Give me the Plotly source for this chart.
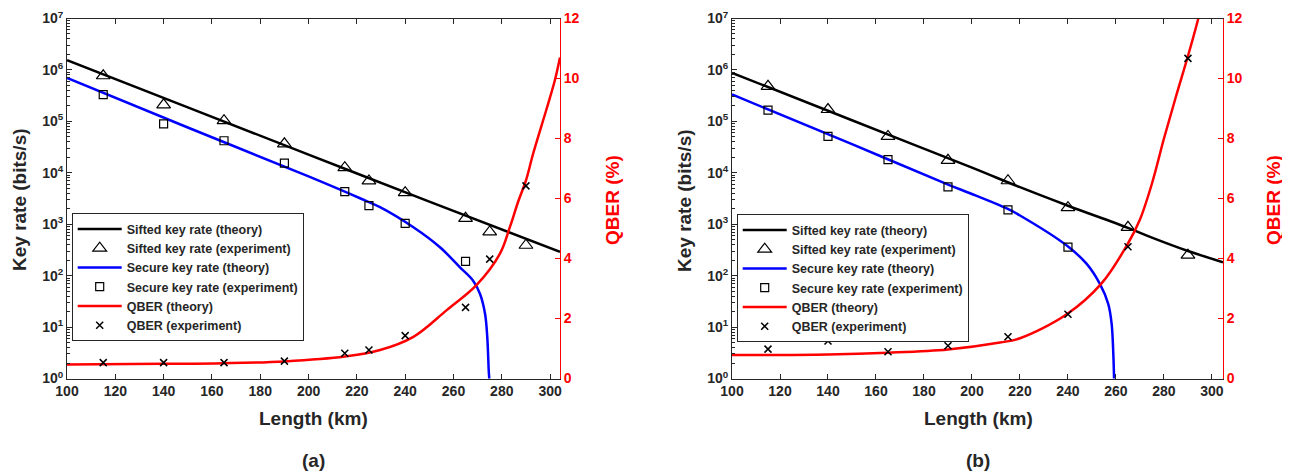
import plotly.graph_objects as go

# ---------------- Panel (a) ----------------
len_sift_th_a = [100, 150, 200, 250, 304.1]
sift_th_a = [1.55e6, 1.87e5, 2.26e4, 2.75e3, 2.9e2]

len_sec_th_a = [100, 150, 200, 221.3, 229.6, 243.4, 254.4, 262.7, 268.2, 271.0, 273.1, 274.0, 274.6, 274.8, 274.9]
sec_th_a = [7.0e5, 7.6e4, 8.5e3, 3.2e3, 2.14e3, 8.7e2, 3.56e2, 1.45e2, 79, 44, 17.8, 6.3, 1.41, 1.0, 0.5]

len_qber_th_a = [100, 140, 165, 190, 215, 229.6, 243.4, 257.2, 269.6, 279.3, 283.4, 286.8, 290, 293, 298.6, 302, 304.1]
qber_th_a = [0.47, 0.49, 0.51, 0.57, 0.73, 0.95, 1.39, 2.28, 3.12, 4.17, 5.06, 5.9, 6.6, 7.5, 9.0, 9.95, 10.7]

len_exp_a = [115, 140, 165, 190, 215, 225, 240, 265, 275, 290]
sift_exp_a = [7.7e5, 2.1e5, 1.03e5, 3.66e4, 1.26e4, 6.95e3, 4.1e3, 1.3e3, 7.1e2, 3.9e2]
len_sec_exp_a = [115, 140, 165, 190, 215, 225, 240, 265]
sec_exp_a = [3.3e5, 8.9e4, 4.2e4, 1.54e4, 4.3e3, 2.3e3, 1.04e3, 1.9e2]
qber_exp_a = [0.53, 0.53, 0.53, 0.58, 0.84, 0.95, 1.43, 2.37, 3.98, 6.42]

# ---------------- Panel (b) ----------------
len_sift_th_b = [100, 150, 200, 220, 240, 265, 275, 290, 304.6]
sift_th_b = [8.77e5, 1.05e5, 1.26e4, 5.25e3, 2.29e3, 8.51e2, 5.5e2, 3.02e2, 1.82e2]

len_sec_th_b = [100, 150, 190.8, 199.2, 214.7, 220, 239.5, 247.8, 253.3, 256.8, 258.2, 258.9, 259.2, 259.3]
sec_th_b = [3.33e5, 3.6e4, 5.7e3, 4.0e3, 2.0e3, 1.48e3, 3.85e2, 1.69e2, 69, 28, 11.5, 2.95, 1.0, 0.5]

len_qber_th_b = [100, 140, 165, 190, 211.7, 220, 239.5, 254, 265, 270, 275, 280, 285, 290, 294.3, 296]
qber_th_b = [0.78, 0.80, 0.86, 0.97, 1.2, 1.34, 2.14, 3.17, 4.5, 5.3, 6.5, 8.0, 9.4, 10.75, 12.0, 12.6]

len_exp_b = [115, 140, 165, 190, 215, 240, 265, 290]
sift_exp_b = [4.8e5, 1.7e5, 5.1e4, 1.75e4, 7.0e3, 2.1e3, 8.7e2, 2.5e2]
len_sec_exp_b = [115, 140, 165, 190, 215, 240]
sec_exp_b = [1.65e5, 5.1e4, 1.8e4, 5.3e3, 1.9e3, 3.6e2]
qber_exp_b = [0.98, 1.25, 0.89, 1.09, 1.39, 2.14, 4.39, 10.67]

# ---------------- Labels ----------------
legend_names = ["Sifted key rate (theory)", "Sifted key rate (experiment)",
                "Secure key rate (theory)", "Secure key rate (experiment)",
                "QBER (theory)", "QBER (experiment)"]
x_ticks = [100, 120, 140, 160, 180, 200, 220, 240, 260, 280, 300]
y_tick_vals = [1, 10, 100, 1e3, 1e4, 1e5, 1e6, 1e7]
y_tick_text = ["10<sup>%d</sup>" % i for i in range(8)]
q_ticks = [0, 2, 4, 6, 8, 10, 12]

FONT = "Liberation Sans, Arial, sans-serif"
DARK = "#262626"
# the page body has an 8px margin, so the figure is drawn 8px in from the corner
OFF = 8
W, H = 1290 - OFF, 471 - OFF


def px(xp):
    return (xp - OFF) / W


def py(yp):
    return (H - (yp - OFF)) / H


fig = go.Figure()


def add_panel(xa, ya, qa, leg, ls, ys, lsec, ysec, lq, yq, le, ye, lse, yse, qe):
    fig.add_trace(go.Scatter(x=ls, y=ys, mode="lines", name=legend_names[0],
                             line=dict(color="black", width=2.5, shape="spline"),
                             xaxis=xa, yaxis=ya, legend=leg))
    fig.add_trace(go.Scatter(x=le, y=ye, mode="markers", name=legend_names[1],
                             marker=dict(symbol="triangle-up-open", size=12, color="black",
                                         line=dict(width=1.2, color="black")),
                             xaxis=xa, yaxis=ya, legend=leg))
    fig.add_trace(go.Scatter(x=lsec, y=ysec, mode="lines", name=legend_names[2],
                             line=dict(color="#0000ff", width=2.5, shape="spline"),
                             xaxis=xa, yaxis=ya, legend=leg))
    fig.add_trace(go.Scatter(x=lse, y=yse, mode="markers", name=legend_names[3],
                             marker=dict(symbol="square-open", size=8, color="black",
                                         line=dict(width=1.2, color="black")),
                             xaxis=xa, yaxis=ya, legend=leg))
    fig.add_trace(go.Scatter(x=lq, y=yq, mode="lines", name=legend_names[4],
                             line=dict(color="#ff0000", width=2.5, shape="spline"),
                             xaxis=xa, yaxis=qa, legend=leg))
    fig.add_trace(go.Scatter(x=le, y=qe, mode="markers", name=legend_names[5],
                             marker=dict(symbol="x-thin", size=7, color="black",
                                         line=dict(width=1.5, color="black")),
                             xaxis=xa, yaxis=qa, legend=leg))


add_panel("x", "y", "y2", "legend", len_sift_th_a, sift_th_a, len_sec_th_a, sec_th_a,
          len_qber_th_a, qber_th_a, len_exp_a, sift_exp_a, len_sec_exp_a, sec_exp_a, qber_exp_a)
add_panel("x2", "y3", "y4", "legend2", len_sift_th_b, sift_th_b, len_sec_th_b, sec_th_b,
          len_qber_th_b, qber_th_b, len_exp_b, sift_exp_b, len_sec_exp_b, sec_exp_b, qber_exp_b)

ydom = [py(378.5), py(18.5)]
minor_vals = [m * 10 ** e for e in range(7) for m in range(2, 10)]


def xaxis_cfg(dom, rng):
    return dict(domain=dom, range=rng, tickvals=x_ticks, ticks="inside", ticklen=5,
                tickcolor=DARK, showline=True, linecolor=DARK, linewidth=1, mirror="ticks",
                showgrid=False, zeroline=False, automargin=False,
                tickfont=dict(family=FONT, size=14, color=DARK, weight="bold"))


def yaxis_cfg(anchor):
    return dict(domain=ydom, type="log", range=[0, 7], anchor=anchor,
                tickvals=y_tick_vals, ticktext=y_tick_text, ticks="inside", ticklen=5,
                tickcolor=DARK, showline=True, linecolor=DARK, linewidth=1,
                showgrid=False, zeroline=False, automargin=False,
                minor=dict(tickvals=minor_vals, ticks="inside", ticklen=3, tickcolor=DARK),
                tickfont=dict(family=FONT, size=14, color=DARK, weight="bold"))


def qaxis_cfg(anchor, overlay):
    return dict(domain=ydom, range=[0, 12], anchor=anchor, overlaying=overlay, side="right",
                tickvals=q_ticks, ticks="inside", ticklen=5, tickcolor="#ff0000",
                showline=True, linecolor="#ff0000", linewidth=1, showgrid=False, zeroline=False,
                automargin=False,
                tickfont=dict(family=FONT, size=14, color="#ff0000", weight="bold"))


leg_font = dict(family=FONT, size=12.5, color=DARK, weight="bold")

fig.update_layout(
    width=W, height=H,
    margin=dict(l=0, r=0, t=0, b=0, autoexpand=False),
    paper_bgcolor="white", plot_bgcolor="white",
    showlegend=True,
    xaxis=xaxis_cfg([px(67), px(560)], [100, 304.1]),
    xaxis2=xaxis_cfg([px(732), px(1223)], [100, 304.6]),
    yaxis=yaxis_cfg("x"),
    yaxis2=qaxis_cfg("x", "y"),
    yaxis3=yaxis_cfg("x2"),
    yaxis4=qaxis_cfg("x2", "y3"),
    legend=dict(x=px(71.7), y=py(213.3), xanchor="left", yanchor="top",
                bordercolor=DARK, borderwidth=1, bgcolor="white", font=leg_font,
                tracegroupgap=0, itemwidth=44),
    legend2=dict(x=px(736.7), y=py(214.3), xanchor="left", yanchor="top",
                 bordercolor=DARK, borderwidth=1, bgcolor="white", font=leg_font,
                 tracegroupgap=0, itemwidth=44),
)

ann_font = dict(family=FONT, size=19, color=DARK, weight="bold")
red_font = dict(family=FONT, size=19, color="#ff0000", weight="bold")
annotations = [
    dict(text="Key rate (bits/s)", x=px(19), y=py(200), textangle=-90, font=ann_font),
    dict(text="QBER (%)", x=px(612), y=py(200), textangle=-90, font=red_font),
    dict(text="Key rate (bits/s)", x=px(684), y=py(200), textangle=-90, font=ann_font),
    dict(text="QBER (%)", x=px(1273), y=py(200), textangle=-90, font=red_font),
    dict(text="Length (km)", x=px(313), y=py(418), font=ann_font),
    dict(text="Length (km)", x=px(978), y=py(418), font=ann_font),
    dict(text="(a)", x=px(313), y=py(460), font=ann_font),
    dict(text="(b)", x=px(978), y=py(460), font=ann_font),
]
for a in annotations:
    a.update(xref="paper", yref="paper", showarrow=False, xanchor="center", yanchor="middle")
fig.update_layout(annotations=annotations)

fig.write_html("out.html")
